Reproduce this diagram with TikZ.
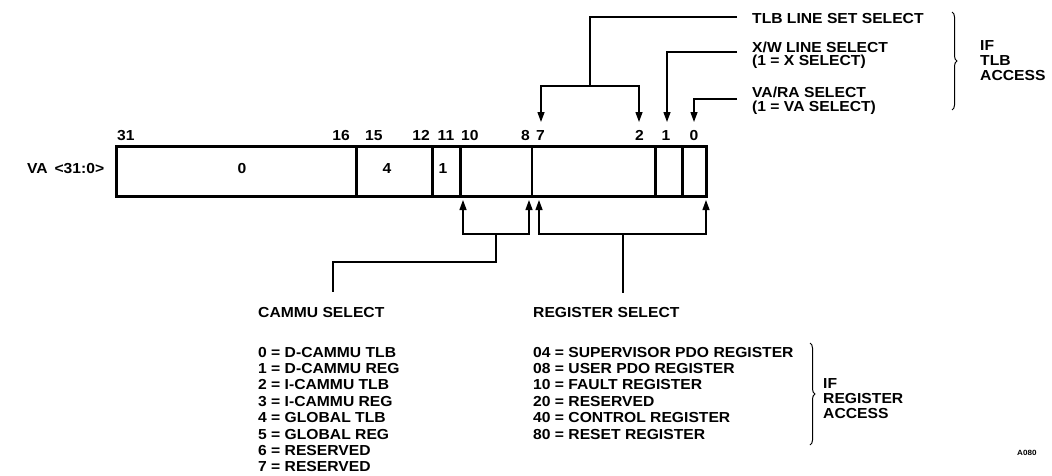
\documentclass[tikz,border=0pt]{standalone}
\usepackage{fontspec}
\setmainfont{Liberation Sans}[FakeStretch=1.08]
\usetikzlibrary{arrows.meta,decorations.pathreplacing}
\begin{document}
\begin{tikzpicture}[x=1pt,y=-1pt,
  txt/.style={inner sep=0pt, anchor=base west, font=\bfseries\fontsize{14.5}{15}\selectfont},
  ctxt/.style={txt, anchor=base},
  etxt/.style={txt, anchor=base east},
  ln/.style={line width=1.3pt},
  arr/.style={line width=1.3pt, -{Triangle[width=7pt,length=10pt]}},
  div/.style={line width=3pt},
  brc/.style={line width=1pt, decorate, decoration={brace, amplitude=5pt}}]
\useasboundingbox (0,0) rectangle (1052,475);

% register box
\node[draw, line width=3pt, minimum width=590pt, minimum height=50pt, inner sep=0pt] (reg) at (411.5,171.5) {};
\draw[div] (356,146.5) -- (356,196.5);
\draw[div] (432,146.5) -- (432,196.5);
\draw[div] (460,146.5) -- (460,196.5);
\draw[line width=2pt] (532,146.5) -- (532,196.5);
\draw[div] (655,146.5) -- (655,196.5);
\draw[div] (682,146.5) -- (682,196.5);

\node[ctxt] (v0) at (242,173) {0};
\node[ctxt] (v4) at (387,173) {4};
\node[ctxt] (v1) at (443,173) {1};
\node[txt] (va) at (27,173) {VA \,<31:0>};

% bit numbers
\node[txt] (n31) at (117,140) {31};
\node[etxt] (n16) at (350,140) {16};
\node[txt] (n15) at (365,140) {15};
\node[etxt] (n12) at (430,140) {12};
\node[ctxt] (n11) at (446,140) {11};
\node[txt] (n10) at (461,140) {10};
\node[etxt] (n8) at (530,140) {8};
\node[txt] (n7) at (536,140) {7};
\node[etxt] (n2) at (644,140) {2};
\node[ctxt] (n1) at (666,140) {1};
\node[ctxt] (n0) at (694,140) {0};

% top labels
\node[txt] (tlb) at (752,23) {TLB LINE SET SELECT};
\node[txt] (xw1) at (752,52) {X/W LINE SELECT};
\node[txt] (xw2) at (752,65) {(1 = X SELECT)};
\node[txt] (va1) at (752,97) {VA/RA SELECT};
\node[txt] (va2) at (752,111) {(1 = VA SELECT)};
\node[txt] (if1) at (980,50) {IF};
\node[txt] (if2) at (980,65) {TLB};
\node[txt] (if3) at (980,80) {ACCESS};
\draw[brc] (952,12) -- (952,110);

% top connectors
\coordinate (t7) at (541,122);
\coordinate (t2) at (639,122);
\coordinate (t1) at (667,122);
\coordinate (t0) at (694,122);
\coordinate (tlbJ) at (590,86);
\coordinate (tlbA) at (737,17);
\coordinate (xwA) at (737,52);
\coordinate (vaA) at (737,99);
\draw[ln] (tlbA) -| (tlbJ);
\draw[arr] (tlbJ) -| (t7);
\draw[arr] (tlbJ) -| (t2);
\draw[arr] (xwA) -| (t1);
\draw[arr] (vaA) -| (t0);

% bottom connectors
\coordinate (bA) at (463,200);
\coordinate (bB) at (529,200);
\coordinate (bC) at (539,200);
\coordinate (bD) at (706,200);
\coordinate (cJ) at (496,234);
\coordinate (rJ) at (623,234);
\coordinate (cK) at (496,262);
\coordinate (cEnd) at (333,292);
\coordinate (rEnd) at (623,293);
\draw[arr] (cJ) -| (bA);
\draw[arr] (cJ) -| (bB);
\draw[ln] (cJ) -- (cK) -| (cEnd);
\draw[arr] (rJ) -| (bC);
\draw[arr] (rJ) -| (bD);
\draw[ln] (rJ) -- (rEnd);

% bottom labels
\node[txt] (cam) at (258,317) {CAMMU SELECT};
\node[txt] (rsel) at (533,317) {REGISTER SELECT};
\foreach \t [count=\i from 0] in {0 = D-CAMMU TLB, 1 = D-CAMMU REG, 2 = I-CAMMU TLB, 3 = I-CAMMU REG, 4 = GLOBAL TLB, 5 = GLOBAL REG, 6 = RESERVED, 7 = RESERVED}
  \node[txt] (c\i) at (258,357+16.4*\i) {\t};
\foreach \t [count=\i from 0] in {04 = SUPERVISOR PDO REGISTER, 08 = USER PDO REGISTER, 10 = FAULT REGISTER, 20 = RESERVED, 40 = CONTROL REGISTER, 80 = RESET REGISTER}
  \node[txt] (r\i) at (533,357+16.4*\i) {\t};
\draw[brc] (810,343) -- (810,445);
\node[txt] (ir1) at (823,388) {IF};
\node[txt] (ir2) at (823,403) {REGISTER};
\node[txt] (ir3) at (823,418) {ACCESS};
\node[txt, font=\bfseries\fontsize{7.5}{8}\selectfont] (a080) at (1017,455) {A080};
\end{tikzpicture}
\end{document}
